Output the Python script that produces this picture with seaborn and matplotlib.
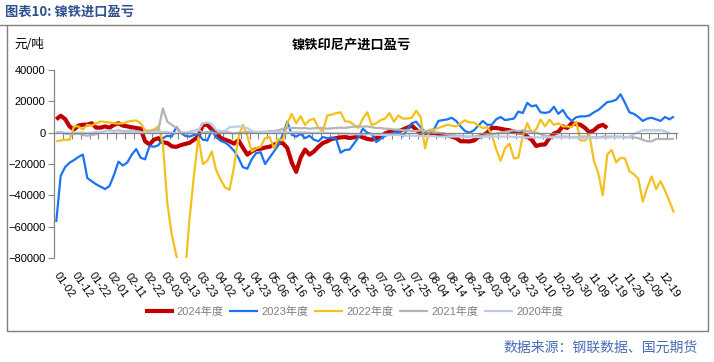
import numpy as np
import pandas as pd
import matplotlib
matplotlib.use("Agg")
import matplotlib.pyplot as plt
import seaborn as sns
from matplotlib.patches import Rectangle
from matplotlib.lines import Line2D
from matplotlib.ticker import FuncFormatter

sns.set_theme(style="white")
plt.rcParams['font.family'] = ['Liberation Sans', 'Noto Sans CJK SC', 'DejaVu Sans']
plt.rcParams['axes.unicode_minus'] = True

# ---------------- data (元/吨) ----------------
date_labels = ["01-02", "01-12", "01-22", "02-01", "02-11", "02-22", "03-03", "03-13", "03-23",
               "04-02", "04-13", "04-23", "05-06", "05-16", "05-26", "06-05", "06-15", "06-25",
               "07-05", "07-15", "07-25", "08-04", "08-14", "08-24", "09-03", "09-13", "09-23",
               "10-10", "10-20", "10-30", "11-09", "11-19", "11-29", "12-09", "12-19"]

series_names = ["2024年度", "2023年度", "2022年度", "2021年度", "2020年度"]

y2024 = [8500, 10800, 8700, 4000, 2000, 4500, 5100, 5100, 6000, 3200,
         3200, 4000, 3200, 5000, 6000, 4500, 4000, 3400, 3000, 2500,
         -5500, -7500, -4500, -3500, -6200, -6600, -8700, -9100, -8000, -7200,
         -6500, -4500, -2500, 5100, 5000, 2000, 0, -3400, -4500, -5500,
         -7000, -4800, -9500, -14000, -12000, -10500, -10300, -9500, -9000, -7700,
         -6600, -6600, -9800, -19000, -25000, -16000, -10800, -14000, -12000, -9000,
         -6600, -5500, -4000, -3500, -3000, -2800, -3400, -3000, -1900, -3000,
         -4000, -4500, -3500, -2600, -500, 500, 800, 800, 2000, 3200,
         4500, 2000, -500, -1300, -800, -1200, -1300, -1300, -1600, -2500,
         -3400, -5500, -5500, -5600, -5000, -2800, -1800, 0, 3000, 3000,
         2500, 1900, 1500, 500, 200, 0, -2500, -4500, -8500, -7700,
         -7500, -3400, -500, 500, 4000, 3000, 6000, 5500, 5000, 3000,
         200, 1500, 4000, 5000, 3000]

y2023 = [-57000, -27500, -22000, -19200, -17500, -15500, -14000, -29000, -31000, -33000,
         -34500, -36000, -34000, -27000, -18500, -21000, -19000, -14000, -10500, -16000,
         -17000, -8500, -9000, -8000, -3500, -2000, -2500, 3500, 0, -2000,
         -2500, -1500, -1000, -4500, -5000, 1500, -3000, -5200, -6300, -8500,
         -11500, -16000, -22000, -23000, -17000, -13000, -12500, -20000, -16000, -12000,
         -8000, -1000, 7000, -1300, -2500, -800, -3500, -2000, -4500, -5500,
         -2800, -3500, -3200, -4000, -12800, -11000, -10800, -7000, -3000, 2500,
         0, -1000, -6000, -4000, -2000, -1000, 0, 1000, -2300, 2000,
         6000, 7000, 3500, 500, 1500, 2000, 7500, 8000, 8500, 9500,
         7500, 4000, 1000, 0, 1500, 4500, 7500, 5000, 5000, 8500,
         10000, 8000, 8500, 9000, 13500, 12500, 19000, 16800, 17500, 13000,
         12600, 13200, 16500, 12000, 14500, 10000, 7500, 9800, 10400, 10400,
         11000, 13000, 14500, 17000, 19500, 20000, 21000, 24500, 19000, 13000,
         12000, 10000, 7500, 9000, 9500, 8500, 7500, 10000, 8500, 10300]

y2022 = [-5500, -5000, -4500, -4500, 4000, 4000, 2000, 5000, 4500, 6000,
         7200, 6800, 6500, 6000, 5800, 6000, 7000, 7500, 7800, 6000,
         1500, 1200, 2000, 4000, -7000, -45000, -65000, -78000, -90000, -90000,
         -55000, -27000, -3000, -20000, -18000, -12000, -24000, -30000, -35000, -36500,
         -22000, -3000, 5000, -2000, -12000, -10000, -9000, -3500, -2500, -10000,
         -4000, -5000, 6000, 12000, 6000, 10500, 5000, 8000, 9000, 3000,
         800, 11000, 11500, 12500, 13000, 7200, 7000, 5000, 3000, 9000,
         13000, 5000, 6000, 8000, 9000, 12500, 7000, 11000, 9000, 9000,
         9500, 14000, 10000, -10000, 1900, 1900, 3000, 4000, 5000, 4500,
         4000, 6000, 7900, 6500, 6500, 4500, 3000, 3500, -1000, -10500,
         -18000, -10000, -7000, -16500, -16000, -2000, 6000, 0, 2000, 8300,
         4000, 8300, 5000, 6000, 4000, 4000, 3500, 7000, -5000, -5000,
         -1500, -18000, -26000, -40000, -14000, -11000, -19000, -16000, -16500, -24700,
         -26500, -29500, -44000, -35000, -28000, -36000, -31000, -37000, -43800, -51000]

y2021 = [0, 500, -500, -1000, -1000, -500, -1500, -2000, -1500, -1000,
         0, 1000, 1500, 1000, 1500, 1000, 1000, 1500, 1000, 500,
         0, 500, 1500, 2000, 15500, 7000, 5000, 3000, 500, -500,
         500, 1000, 2000, 0, 500, 0, -500, 0, 500, 0,
         -500, 0, 0, 500, 0, 0, 500, 500, 1000, 1000,
         1500, 2500, 3000, 3000, 3000, 2800, 3000, 2500, 2800, 3000,
         3000, 2500, 2800, 3000, 3200, 3000, 3500, 3800, 4000, 3800,
         4000, 3500, 3000, 3000, 2500, 2500, 2000, 2000, 1500, 1500,
         1000, 1000, 1500, 1000, 1000, 500, 0, -500, -1000, -1500,
         -2000, -2000, -2500, -2500, -2500, -2000, -2000, -1500, -1000, -500,
         0, 500, 1000, 1500, 1000, 1500, 1000, 500, 0, -1000,
         -2000, -2500, -2500, -2500, -2500, -2500, -3000, -3000, -2500, -2500,
         -3000, -3000, -3000, -2500, -2500, -2500, -2500, -2500, -3000, -3000,
         -3000, -3500, -4500, -5500, -5500, -4000, -4000, -4000, -4000, -4000]

y2020 = [500, 0, 0, -500, -500, 0, 0, -500, 0, 500,
         500, 1000, 1000, 500, 1000, 500, 500, 500, 0, 0,
         0, 0, 500, 500, 500, 500, 0, -500, 0, 0,
         500, 1000, 1500, 6000, 6500, 5500, 1500, 1000, 1000, 3500,
         3800, 4000, 3500, 3000, 1000, 500, 500, 500, 500, 500,
         500, 500, 300, 300, 300, 200, 200, 0, 0, 0,
         0, -200, -300, -500, -500, -500, -800, -1000, -1000, -1000,
         -1000, -1000, -1200, -1500, -1500, -1500, -1500, -1500, -1800, -2000,
         -2000, -2000, -2000, -2000, -2200, -2200, -2500, -2500, -2500, -2500,
         -2500, -2500, -2500, -2800, -2800, -2800, -2800, -2500, -2500, -2500,
         -2500, -2500, -2500, -2800, -2800, -3000, -3000, -3000, -3000, -3000,
         -3000, -3000, -3000, -3000, -3000, -3000, -3000, -3000, -3200, -3200,
         -3200, -3200, -3200, -3200, -3200, -3000, -3000, -3000, -3000, -2500,
         -1000, 500, 1500, 1500, 1500, 1500, 1500, 1000, -500]

series_values = [y2024, y2023, y2022, y2021, y2020]
series_colors = ["#c00000", "#1874f5", "#f3c01c", "#b4b4b4", "#bccbec"]
series_widths = [3.0, 1.6, 1.6, 1.6, 1.6]

# ---------------- figure ----------------
W, H = 714, 362
fig = plt.figure(figsize=(W / 100, H / 100), dpi=100)
fig.patch.set_facecolor("white")

ax = fig.add_axes([54 / W, 1 - 258 / H, (677 - 54) / W, (258 - 70) / H])
ax.set_facecolor("white")

handles = []
for name, vals, color, lw in zip(series_names, series_values, series_colors, series_widths):
    df = pd.DataFrame({"idx": np.arange(len(vals)), "v": vals})
    sns.lineplot(data=df, x="idx", y="v", ax=ax, color=color, linewidth=lw,
                 legend=False, solid_capstyle="butt", solid_joinstyle="round")
    handles.append(Line2D([0], [0], color=color, linewidth=lw, solid_capstyle="butt"))

ax.set_xlim(-0.5, 139.7)
ax.set_ylim(-80000, 40000)
ax.set_xlabel("")
ax.set_ylabel("")
ax.grid(False)

ax.set_yticks(np.arange(-80000, 40001, 20000))
ax.yaxis.set_major_formatter(FuncFormatter(lambda v, p: f"{v:.0f}".replace("-", "\u2212")))
ax.tick_params(axis="y", direction="out", length=4, width=0.8, color="#868686",
               labelsize=8, labelcolor="black", pad=2, left=True)

for s in ["top", "right"]:
    ax.spines[s].set_visible(False)
ax.spines["left"].set_color("#868686")
ax.spines["left"].set_linewidth(0.9)
ax.spines["bottom"].set_position(("data", 0))
ax.spines["bottom"].set_color("#868686")
ax.spines["bottom"].set_linewidth(0.9)

ax.set_xticks(np.arange(1.5, 140, 2))
ax.tick_params(axis="x", direction="out", length=4, width=0.8, color="#868686",
               labelbottom=False, bottom=True)

label_pos = [1.5 + 4 * i for i in range(len(date_labels))]
for xp, lab in zip(label_pos, date_labels):
    ax.text(xp + 0.3, -0.145, lab, transform=ax.get_xaxis_transform(), rotation=-55,
            rotation_mode="anchor", ha="center", va="center", fontsize=8, color="black")

# legend
fig.legend(handles, series_names, loc="center", bbox_to_anchor=(354 / W, 1 - 312 / H),
           ncol=5, frameon=False, fontsize=8, handlelength=2.6, handletextpad=0.3,
           columnspacing=0.5, labelcolor="#808080",
           prop={"family": ["Liberation Sans", "Noto Sans CJK SC"], "size": 8})

# frame and texts
fig.add_artist(Rectangle((7 / W, 1 - 331 / H), (708 - 7) / W, (331 - 25) / H,
                         transform=fig.transFigure, fill=False, edgecolor="#7f7f7f", lw=1))
fig.add_artist(Line2D([0, 7 / W], [1 - 25 / H, 1 - 25 / H], transform=fig.transFigure,
                      color="#7f7f7f", lw=1))

fig.text(5 / W, 1 - 12 / H, "图表10: 镍铁进口盈亏", ha="left", va="center", fontsize=9.5,
         fontweight="bold", color="#2f4f8f", family=["Noto Sans CJK SC", "DejaVu Sans"])
fig.text(14 / W, 1 - 45 / H, "元/吨", ha="left", va="center", fontsize=9,
         color="black", family=["Noto Sans CJK SC", "DejaVu Sans"])
fig.text(351 / W, 1 - 44 / H, "镍铁印尼产进口盈亏", ha="center", va="center", fontsize=9.5,
         fontweight="bold", color="black", family=["Noto Sans CJK SC", "DejaVu Sans"])
fig.text(698 / W, 1 - 348 / H, "数据来源：钢联数据、国元期货", ha="right", va="center",
         fontsize=10, color="#4a6cb8", family=["Noto Sans CJK SC", "DejaVu Sans"])

fig.savefig("out.png", dpi=100, facecolor="white")
